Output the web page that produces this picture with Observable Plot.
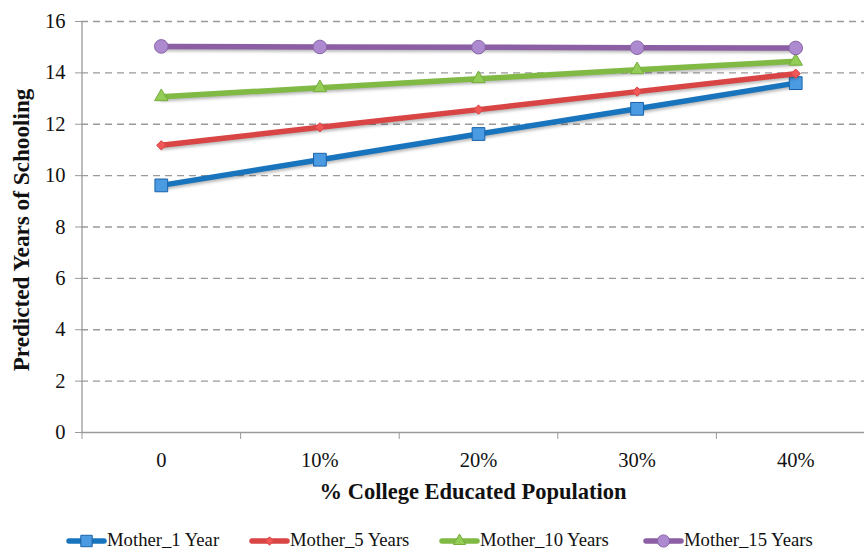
<!DOCTYPE html>
<html>
<head>
<meta charset="utf-8">
<script src="https://cdn.jsdelivr.net/npm/d3@7"></script>
<script src="https://cdn.jsdelivr.net/npm/@observablehq/plot@0.6"></script>
<style>
  body { margin: 0; background: #fff; }
  #chart { width: 864px; height: 550px; position: relative; font-family: "Liberation Serif", "DejaVu Serif", serif; color: #111; }
  #chart svg.plot { position: absolute; left: 0; top: 0; }
  g[aria-label="line"] path { filter: drop-shadow(1px 2px 1.5px rgba(0,0,0,0.28)); }
  #legend { position: absolute; top: 530px; left: 0; width: 864px; height: 20px; }
  .item { position: absolute; top: 0; height: 20px; line-height: 20px; display: flex; align-items: center; font-size: 18.7px; white-space: nowrap; }
</style>
</head>
<body>
<div id="chart"></div>
<script>
// ---- data ----
const collegePct = [0, 10, 20, 30, 40];
const xTickLabels = ["0", "10%", "20%", "30%", "40%"];
const yTicks = [0, 2, 4, 6, 8, 10, 12, 14, 16];
const seriesNames = ["Mother_1 Year", "Mother_5 Years", "Mother_10 Years", "Mother_15 Years"];
const mother1 = [9.62, 10.62, 11.62, 12.6, 13.6];
const mother5 = [11.18, 11.88, 12.57, 13.27, 13.97];
const mother10 = [13.07, 13.42, 13.77, 14.12, 14.45];
const mother15 = [15.03, 15.01, 15.0, 14.98, 14.97];
const seriesValues = [mother1, mother5, mother10, mother15];
const lineColors = ["#1874bd", "#d94444", "#80b944", "#8c5ea3"];
const markerFills = ["#4a9be2", "#f05757", "#94cc58", "#ad8ad0"];
const markerStrokes = ["#1a62a8", "#d94444", "#75ad3c", "#8763a6"];
const markerSymbols = ["square", "diamond2", "triangle", "circle"];
const markerR = [7.2, 4.2, 5, 6.8];
const xTitle = "% College Educated Population";
const yTitle = "Predicted Years of Schooling";

const rows = seriesNames.flatMap((s, i) => collegePct.map((x, j) => ({series: s, x, y: seriesValues[i][j]})));

const seriesMarks = seriesNames.flatMap((s, i) => {
  const d = rows.filter(r => r.series === s);
  return [
    Plot.line(d, {x: "x", y: "y", stroke: lineColors[i], strokeWidth: 5.5}),
    Plot.dot(d, {x: "x", y: "y", symbol: () => markerSymbols[i], r: markerR[i], fill: markerFills[i], stroke: markerStrokes[i], strokeWidth: 1})
  ];
});

const chart = Plot.plot({
  width: 864,
  height: 512,
  marginLeft: 81,
  marginRight: 0,
  marginTop: 21,
  marginBottom: 80,
  style: {fontFamily: '"Liberation Serif", "DejaVu Serif", serif', background: "transparent", overflow: "visible"},
  x: {type: "linear", domain: [-5, 45], range: [81.5, 874.5]},
  y: {domain: [0, 16]},
  symbol: {type: "identity"},
  marks: [
    Plot.ruleY(yTicks.filter(d => d > 0), {stroke: "#9a9a9a", strokeWidth: 1.3, strokeDasharray: "7,5"}),
    Plot.ruleY([0], {stroke: "#9a9a9a", strokeWidth: 1.3}),
    Plot.ruleX([-5], {y1: 0, y2: 16, stroke: "#9a9a9a", strokeWidth: 1.3}),
    Plot.axisY({ticks: yTicks, tickSize: 6, tickPadding: 10, stroke: "#9a9a9a", fill: "#111", fontSize: 20.5, label: null}),
    Plot.axisX({ticks: [-5, 5, 15, 25, 35, 45], tickFormat: () => "", tickSize: 7, stroke: "#9a9a9a", label: null}),
    Plot.axisX({ticks: collegePct, tickSize: 0, tickPadding: 20, tickFormat: d => xTickLabels[collegePct.indexOf(d)], fill: "#111", fontSize: 20.5, label: null}),
    Plot.text([xTitle], {frameAnchor: "bottom", dy: 66, fontSize: 22.5, fontWeight: "bold", fill: "#111"}),
    Plot.text([yTitle], {frameAnchor: "left", textAnchor: "middle", rotate: -90, dx: -60, dy: 3, fontSize: 23.2, fontWeight: "bold", fill: "#111"}),
    ...seriesMarks
  ]
});
const root = document.getElementById("chart");
root.appendChild(chart);

// legend
const legend = document.createElement("div");
legend.id = "legend";
const legendLeft = [66, 249, 439, 643];
seriesNames.forEach((s, i) => {
  const item = document.createElement("div");
  item.className = "item";
  item.style.left = legendLeft[i] + "px";
  const sw = d3.create("svg").attr("width", 41).attr("height", 20);
  sw.append("line").attr("x1", 3).attr("x2", 38).attr("y1", 11).attr("y2", 11)
    .attr("stroke", lineColors[i]).attr("stroke-width", 5.5).attr("stroke-linecap", "round");
  const sym = {square: d3.symbolSquare, diamond2: d3.symbolDiamond2, triangle: d3.symbolTriangle, circle: d3.symbolCircle}[markerSymbols[i]];
  sw.append("path").attr("transform", "translate(20.5,11)")
    .attr("d", d3.symbol(sym, Math.PI * markerR[i] * markerR[i] * 0.8)())
    .attr("fill", markerFills[i]).attr("stroke", markerStrokes[i]);
  item.appendChild(sw.node());
  const t = document.createElement("span");
  t.textContent = s;
  item.appendChild(t);
  legend.appendChild(item);
});
root.appendChild(legend);
</script>
</body>
</html>
